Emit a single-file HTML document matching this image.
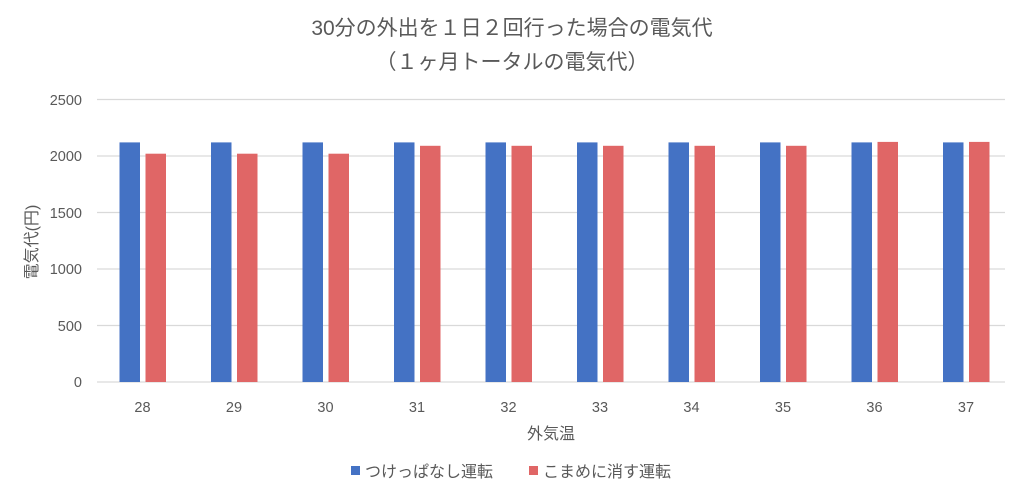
<!DOCTYPE html>
<html><head><meta charset="utf-8"><style>
body{margin:0;background:#fff}
svg text{font-family:"Liberation Sans","Noto Sans CJK JP",sans-serif;fill:#595959}
</style></head><body>
<svg width="1024" height="496" xmlns="http://www.w3.org/2000/svg">
<rect width="1024" height="496" fill="#fff"/>
<text x="512" y="35" font-size="21" text-anchor="middle">30分の外出を１日２回行った場合の電気代</text>
<text x="512" y="69" font-size="21" text-anchor="middle">（１ヶ月トータルの電気代）</text>
<g stroke="#d9d9d9" stroke-width="1.3">
<line x1="97" x2="1005" y1="99.5" y2="99.5"/>
<line x1="97" x2="1005" y1="156" y2="156"/>
<line x1="97" x2="1005" y1="212.5" y2="212.5"/>
<line x1="97" x2="1005" y1="269" y2="269"/>
<line x1="97" x2="1005" y1="325.5" y2="325.5"/>
<line x1="97" x2="1005" y1="382" y2="382"/>
</g>
<g font-size="14.5" text-anchor="end">
<text x="82" y="105">2500</text><text x="82" y="161">2000</text><text x="82" y="218">1500</text>
<text x="82" y="274">1000</text><text x="82" y="331">500</text><text x="82" y="387">0</text>
</g>
<text transform="translate(37,242) rotate(-90)" font-size="16" text-anchor="middle">電気代(円)</text>
<g fill="#4472C4">
<rect x="119.5" y="142.4" width="20.5" height="239.6"/>
<rect x="211" y="142.4" width="20.5" height="239.6"/>
<rect x="302.5" y="142.4" width="20.5" height="239.6"/>
<rect x="394" y="142.4" width="20.5" height="239.6"/>
<rect x="485.5" y="142.4" width="20.5" height="239.6"/>
<rect x="577" y="142.4" width="20.5" height="239.6"/>
<rect x="668.5" y="142.4" width="20.5" height="239.6"/>
<rect x="760" y="142.4" width="20.5" height="239.6"/>
<rect x="851.5" y="142.4" width="20.5" height="239.6"/>
<rect x="943" y="142.4" width="20.5" height="239.6"/>
</g>
<g fill="#E06666">
<rect x="145.5" y="153.7" width="20.5" height="228.3"/>
<rect x="237" y="153.7" width="20.5" height="228.3"/>
<rect x="328.5" y="153.7" width="20.5" height="228.3"/>
<rect x="420" y="145.8" width="20.5" height="236.2"/>
<rect x="511.5" y="145.8" width="20.5" height="236.2"/>
<rect x="603" y="145.8" width="20.5" height="236.2"/>
<rect x="694.5" y="145.8" width="20.5" height="236.2"/>
<rect x="786" y="145.8" width="20.5" height="236.2"/>
<rect x="877.5" y="141.9" width="20.5" height="240.1"/>
<rect x="969" y="141.9" width="20.5" height="240.1"/>
</g>
<g font-size="14.5" text-anchor="middle">
<text x="142.5" y="412">28</text><text x="234" y="412">29</text><text x="325.5" y="412">30</text>
<text x="417" y="412">31</text><text x="508.5" y="412">32</text><text x="600" y="412">33</text>
<text x="691.5" y="412">34</text><text x="783" y="412">35</text><text x="874.5" y="412">36</text>
<text x="966" y="412">37</text>
</g>
<text x="551" y="439" font-size="16" text-anchor="middle">外気温</text>
<rect x="351" y="466" width="9" height="9" fill="#4472C4"/>
<text x="365" y="477" font-size="16">つけっぱなし運転</text>
<rect x="529" y="466" width="9" height="9" fill="#E06666"/>
<text x="543" y="477" font-size="16">こまめに消す運転</text>
</svg>
</body></html>
